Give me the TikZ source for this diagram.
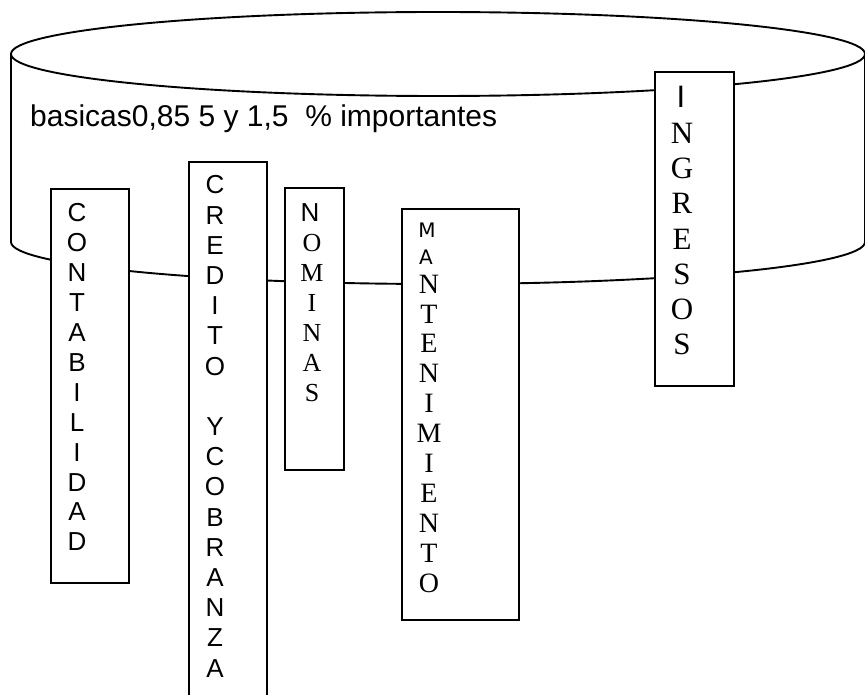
\documentclass[tikz,border=0pt]{standalone}
\usepackage{fontspec}
\newfontfamily\arialf{Liberation Sans}
\newfontfamily\dejavuf{DejaVu Sans}
\newfontfamily\timesf{Liberation Serif}
\tikzset{
  outline/.style={line width=1.9pt, draw=black},
  panel/.style={draw=black, line width=1.9pt, fill=white, inner sep=0pt, anchor=north west},
  glyph/.style={inner sep=0pt, anchor=center},
  sansbig/.style={glyph, font=\arialf\fontsize{26}{26}\selectfont},
  sanshuge/.style={glyph, font=\arialf\fontsize{31}{31}\selectfont},
  sanswide/.style={glyph, font=\dejavuf\fontsize{20}{20}\selectfont},
  serifmid/.style={glyph, font=\timesf\fontsize{26}{26}\selectfont},
  seriflarge/.style={glyph, font=\timesf\fontsize{28}{28}\selectfont},
  serifhuge/.style={glyph, font=\timesf\fontsize{31}{31}\selectfont}
}
\begin{document}
\begin{tikzpicture}[x=1pt, y=-1pt]
\useasboundingbox (0,0) rectangle (865,695);
\clip (0,0) rectangle (865,695);
\fill[white] (0,0) rectangle (865,695);

% cylinder: top ellipse, sides and front of the base
\draw[outline] (438,54) ellipse [x radius=427pt, y radius=42pt];
\draw[outline] (11,54) -- (11,242)
  arc [start angle=180, end angle=360, x radius=427pt, y radius=42pt]
  -- (865,54);

% heading inside the cylinder
\node[anchor=base west, inner sep=0pt, font=\arialf\fontsize{30}{36}\selectfont]
  (title) at (30,126.5) {basicas0,85 5 y 1,5~~\% importantes};

% the five department panels
\node[panel, minimum width=78pt, minimum height=394pt] (contab) at (50,188) {};
\node[panel, minimum width=78pt, minimum height=545pt] (credito) at (188,161) {};
\node[panel, minimum width=59pt, minimum height=282pt] (nominas) at (284,187) {};
\node[panel, minimum width=117pt, minimum height=411pt] (mant) at (401,208) {};
\node[panel, minimum width=79pt, minimum height=314pt] (ingresos) at (654,71) {};

% CONTABILIDAD
\foreach \ch [count=\i from 0] in {C,O,N,T,A,B,I,L,I,D,A,D}
  \node[sansbig] (contab-\i) at (77,213+29.9*\i) {\ch};

% CREDITO Y COBRANZA
\foreach \ch/\k in {C/0,R/1,E/2,D/3,I/4,T/5,O/6,Y/8,C/9,O/10,B/11,R/12,A/13,N/14,Z/15,A/16}
  \node[sansbig] (credito-\k) at (215,185+30.2*\k) {\ch};

% NOMINAS
\node[sansbig] (nominas-0) at (310,213) {N};
\foreach \ch [count=\i from 1] in {O,M,I,N,A,S}
  \node[serifmid] (nominas-\i) at (312,213+30*\i) {\ch};

% MANTENIMIENTO
\node[sanswide] (mant-0) at (427,230) {M};
\node[sanswide] (mant-1) at (426,257) {A};
\foreach \ch [count=\i from 2] in {N,T,E,N,I,M,I,E,N,T,O}
  \node[seriflarge] (mant-\i) at (429,284+29.9*\i-59.8) {\ch};

% INGRESOS
\node[sanshuge] (ingresos-0) at (681,97) {I};
\foreach \ch [count=\i from 1] in {N,G,R,E,S,O,S}
  \node[serifhuge] (ingresos-\i) at (682,133+35.3*\i-35.3) {\ch};
\end{tikzpicture}
\end{document}
